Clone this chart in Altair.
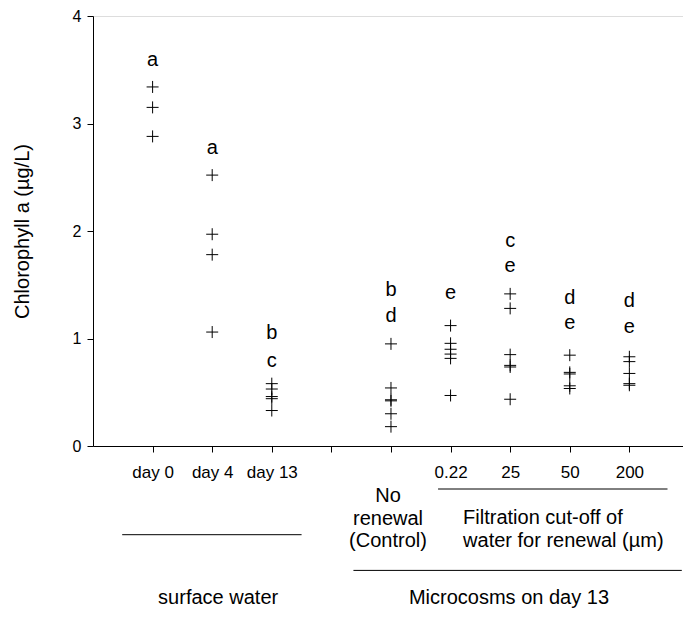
import json
import altair as alt
import pandas as pd

# ---- data -------------------------------------------------------------
# x positions of the groups (tick index on the x axis; index 4 is a gap)
tick_values = [1, 2, 3, 4, 5, 6, 7, 8, 9]
tick_labels = ["day 0", "day 4", "day 13", "", "", "0.22", "25", "50", "200"]
y_ticks = [0, 1, 2, 3, 4]

day0 = [3.34, 3.15, 2.88]
day4 = [2.52, 1.97, 1.78, 1.06]
day13 = [0.58, 0.53, 0.46, 0.44, 0.33]
no_renewal = [0.95, 0.54, 0.43, 0.42, 0.30, 0.18]
cut_022 = [1.12, 0.955, 0.90, 0.855, 0.815, 0.47]
cut_25 = [1.415, 1.28, 0.85, 0.75, 0.735, 0.435]
cut_50 = [0.845, 0.685, 0.67, 0.56, 0.535]
cut_200 = [0.83, 0.785, 0.675, 0.58, 0.565]

group_pos = [1, 2, 3, 5, 6, 7, 8, 9]
group_vals = [day0, day4, day13, no_renewal, cut_022, cut_25, cut_50, cut_200]

# significance letters
letter_pos = [1, 2, 3, 3, 5, 5, 6, 7, 7, 8, 8, 9, 9]
letter_text = ["a", "a", "b", "c", "b", "d", "e", "c", "e", "d", "e", "d", "e"]
letter_y = [3.59, 2.77, 1.05, 0.79, 1.45, 1.21, 1.42, 1.91, 1.67, 1.38, 1.14, 1.35, 1.11]

# annotations below the axis (x in axis units, y in page pixels)
note_text = ["No", "renewal", "(Control)", "Filtration cut-off of",
             "water for renewal (µm)", "surface water", "Microcosms on day 13"]
note_x = [4.95, 4.95, 4.95, 6.21, 6.21, 2.1, 6.98]
note_y = [496.7, 519.3, 541.7, 518.3, 541.7, 598.3, 598.3]
note_align = ["center", "center", "center", "left", "left", "center", "center"]

line_x1 = [0.49, 5.79, 4.37]
line_x2 = [3.50, 9.64, 9.88]
line_y = [535.0, 489.3, 570.7]

PLOT_TOP = 16.3  # page y of the plot area's top edge
FONT = "Liberation Sans"
BIG = 20

# ---- build ------------------------------------------------------------
rows = []
for p, vals in zip(group_pos, group_vals):
    for v in vals:
        rows.append({"pos": p, "val": v})
pts = pd.DataFrame(rows)
letters = pd.DataFrame({"pos": letter_pos, "txt": letter_text, "val": letter_y})

label_expr = json.dumps(tick_labels) + "[datum.value - 1]"

xscale = alt.Scale(domain=[0, 9.9], nice=False, zero=False)
yscale = alt.Scale(domain=[0, 4], nice=False, zero=True)

x_enc = alt.X("pos:Q", scale=xscale,
              axis=alt.Axis(values=tick_values, labelExpr=label_expr, title=None,
                            grid=False, tickSize=6, labelPadding=12, labelFontSize=17,
                            labelOverlap=False, labelFlush=False,
                            domainColor="black", tickColor="black", labelColor="black",
                            labelFont=FONT))
y_enc = alt.Y("val:Q", scale=yscale,
              axis=alt.Axis(values=y_ticks, format="d", title="Chlorophyll a (µg/L)",
                            grid=False, tickSize=6, labelPadding=6, labelFontSize=16,
                            labelFlush=False, labelFont=FONT,
                            domainColor="black", tickColor="black", labelColor="black",
                            titleFont=FONT, titleFontSize=BIG, titleFontWeight="normal",
                            titleColor="black", titleAngle=270, titleX=-71, titleY=215,
                            titleAlign="center", titleBaseline="middle"))

points = alt.Chart(pts).mark_point(
    shape="M-1,0L1,0M0,-1L0,1", size=144, filled=False, stroke="black",
    strokeWidth=1, opacity=1
).encode(x=x_enc, y=y_enc)

letter_layer = alt.Chart(letters).mark_text(
    font=FONT, fontSize=BIG, color="black", align="center", baseline="middle"
).encode(x=alt.X("pos:Q", scale=xscale), y=alt.Y("val:Q", scale=yscale), text="txt:N")

layers = [points, letter_layer]

for t, xv, yv, al in zip(note_text, note_x, note_y, note_align):
    d = pd.DataFrame({"pos": [xv], "txt": [t]})
    layers.append(
        alt.Chart(d).mark_text(font=FONT, fontSize=BIG, color="black", align=al,
                               baseline="middle")
        .encode(x=alt.X("pos:Q", scale=xscale), y=alt.value(yv - PLOT_TOP), text="txt:N")
    )

for a, b, yv in zip(line_x1, line_x2, line_y):
    d = pd.DataFrame({"pos": [a], "pos2": [b]})
    layers.append(
        alt.Chart(d).mark_rule(color="black", strokeWidth=1)
        .encode(x=alt.X("pos:Q", scale=xscale), x2="pos2:Q", y=alt.value(yv - PLOT_TOP))
    )

chart = alt.layer(*layers).properties(
    width=590, height=430, autosize="none",
    padding={"left": 85, "top": 8, "right": 0, "bottom": 164},
).configure_view(stroke="black", strokeWidth=1).configure(background="white")

chart.save("out.html", embed_options={"renderer": "svg", "actions": False})
